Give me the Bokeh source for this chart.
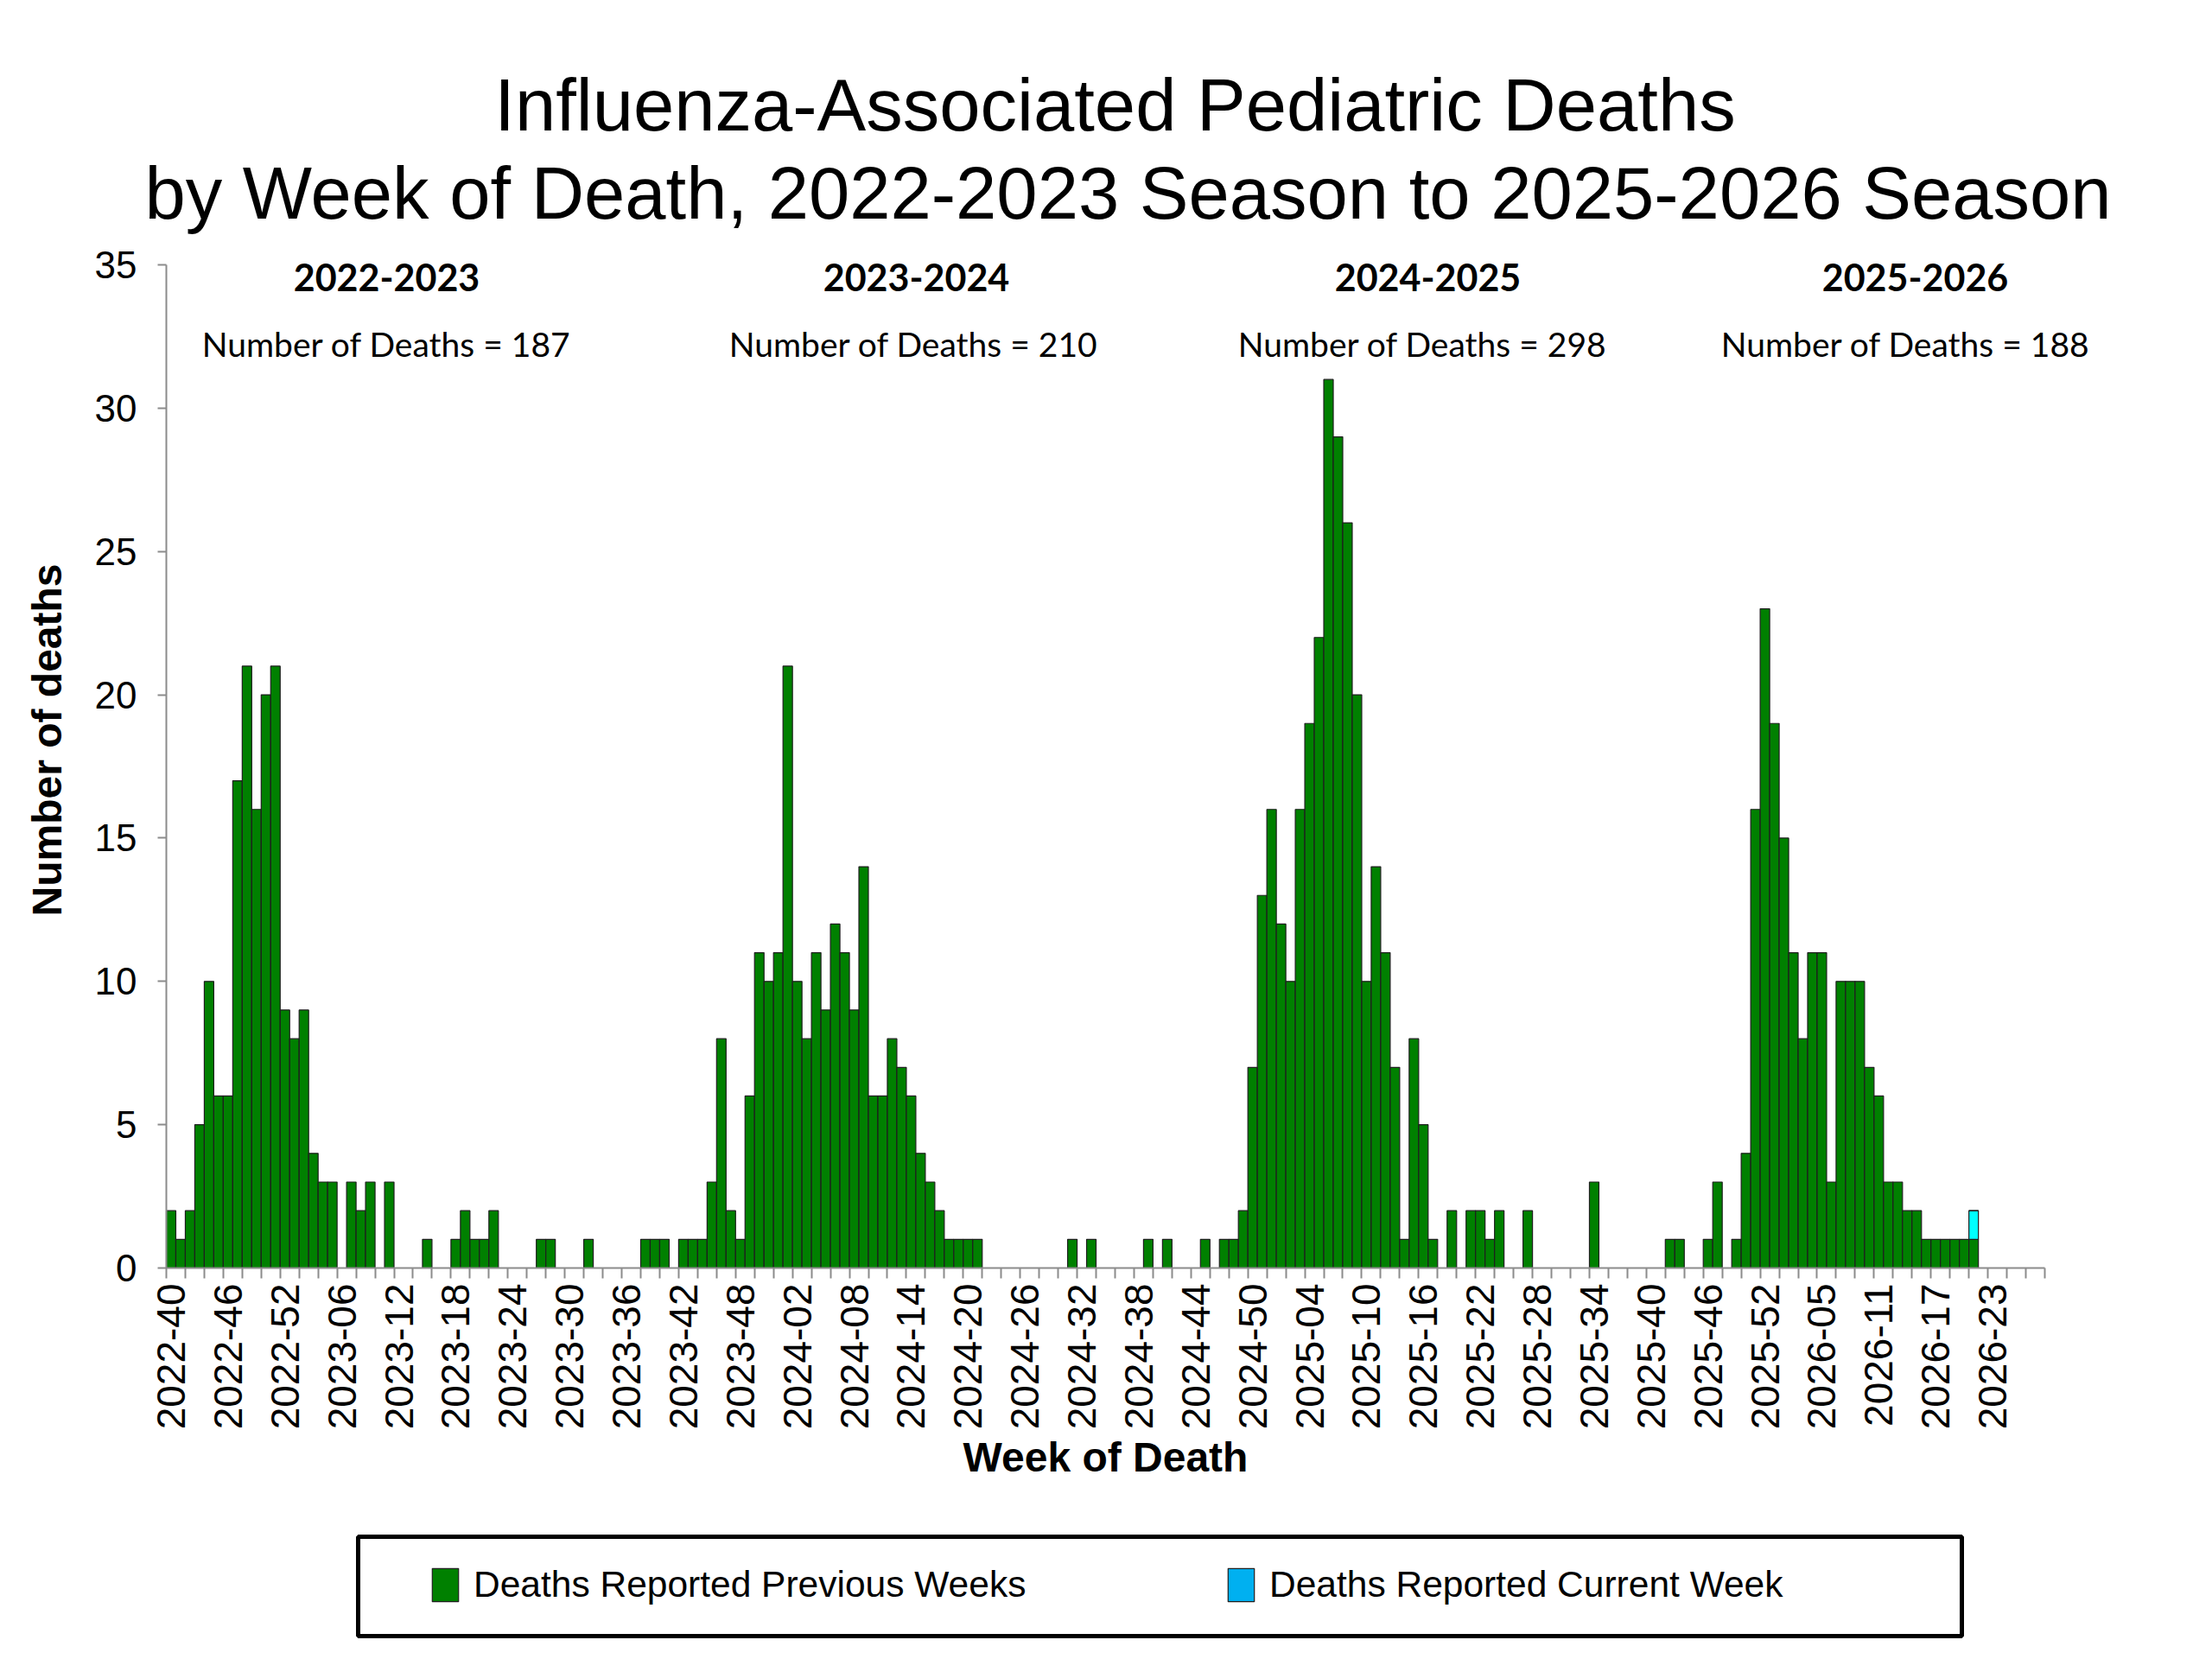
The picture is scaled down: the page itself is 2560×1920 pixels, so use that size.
from bokeh.plotting import figure
from bokeh.models import (ColumnDataSource, Range1d, FixedTicker, Label, Legend,
                          LegendItem, BoxAnnotation)
from bokeh.embed import file_html
from bokeh.resources import INLINE

# ---------------- data ----------------
season_labels = ["2022-2023", "2023-2024", "2024-2025", "2025-2026"]
season_totals = [187, 210, 298, 188]

first_year, first_week = 2022, 40
weeks_per_year = {2022: 52, 2023: 52, 2024: 52, 2025: 53, 2026: 53}
n_weeks = 198  # 2022-40 .. 2026-28

# deaths reported previous weeks, 2022-40 .. 2023-39
season_2022_23 = [2, 1, 2, 5, 10, 6, 6, 17, 21, 16, 20, 21,
                  9, 8, 9, 4, 3, 3, 0, 3, 2, 3, 0, 3,
                  0, 0, 0, 1, 0, 0, 1, 2, 1, 1, 2, 0,
                  0, 0, 0, 1, 1, 0, 0, 0, 1, 0, 0, 0,
                  0, 0, 1, 1]
# 2023-40 .. 2024-39
season_2023_24 = [1, 0, 1, 1, 1, 3, 8, 2, 1, 6, 11, 10,
                  11, 21, 10, 8, 11, 9, 12, 11, 9, 14, 6, 6,
                  8, 7, 6, 4, 3, 2, 1, 1, 1, 1, 0, 0,
                  0, 0, 0, 0, 0, 0, 0, 1, 0, 1, 0, 0,
                  0, 0, 0, 1]
# 2024-40 .. 2025-39
season_2024_25 = [0, 1, 0, 0, 0, 1, 0, 1, 1, 2, 7, 13,
                  16, 12, 10, 16, 19, 22, 31, 29, 26, 20, 10, 14,
                  11, 7, 1, 8, 5, 1, 0, 2, 0, 2, 2, 1,
                  2, 0, 0, 2, 0, 0, 0, 0, 0, 0, 3, 0,
                  0, 0, 0, 0]
# 2025-40 .. 2026-21
season_2025_26_prev = [0, 0, 1, 1, 0, 0, 1, 3, 0, 1, 4, 16,
                       23, 19, 15, 11, 8, 11, 11, 3, 10, 10, 10, 7,
                       6, 3, 3, 2, 2, 1, 1, 1, 1, 1, 1]
season_2025_26_current = [0, 0, 0, 0, 0, 0, 0, 0, 0, 0, 0, 0,
                          0, 0, 0, 0, 0, 0, 0, 0, 0, 0, 0, 0,
                          0, 0, 0, 0, 0, 0, 0, 0, 0, 0, 1]

# ---------------- build categories ----------------
week_labels = []
yr, wk = first_year, first_week
for _ in range(n_weeks):
    week_labels.append(f"{yr}-{wk:02d}")
    wk += 1
    if wk > weeks_per_year[yr]:
        yr, wk = yr + 1, 1

prev = season_2022_23 + season_2023_24 + season_2024_25 + season_2025_26_prev
offset4 = len(season_2022_23) + len(season_2023_24) + len(season_2024_25)

prev_src = ColumnDataSource(data=dict(
    x=[i for i, v in enumerate(prev) if v > 0],
    top=[v for v in prev if v > 0],
    week=[week_labels[i] for i, v in enumerate(prev) if v > 0],
))
cur_idx = [offset4 + i for i, v in enumerate(season_2025_26_current) if v > 0]
cur_src = ColumnDataSource(data=dict(
    x=cur_idx,
    bottom=[prev[i] for i in cur_idx],
    top=[prev[i] + season_2025_26_current[i - offset4] for i in cur_idx],
))

# ---------------- layout (pixels) ----------------
W, H = 2544, 1904
AX_L, AX_R, AX_T, AX_B = 192, 2366, 306, 1467   # where x=-0.5..197.5 / y=0..35 sit
XB0, XB1, YB0, YB1 = -0.5, n_weeks - 0.5, 0, 35
XPP = (XB1 - XB0) / (AX_R - AX_L)   # data units per pixel
YPP = (YB1 - YB0) / (AX_B - AX_T)


def dx(px):
    return XB0 + (px - AX_L) * XPP


def dy(py):
    return YB0 + (AX_B - py) * YPP


p = figure(width=W, height=H,
           x_range=Range1d(dx(0), dx(W)), y_range=Range1d(dy(H), dy(0)),
           output_backend="svg", toolbar_location=None,
           min_border_left=0, min_border_right=0,
           min_border_top=0, min_border_bottom=0)
p.title.visible = False
p.outline_line_color = None
p.xgrid.grid_line_color = None
p.ygrid.grid_line_color = None
p.background_fill_color = "white"
p.border_fill_color = "white"

GREEN = "#008000"
CYAN = "#00FFFF"
LEG_CYAN = "#00B0F0"

r_prev = p.vbar(x="x", top="top", bottom=0, width=1.0, source=prev_src,
                fill_color=GREEN, line_color="#1e1e1e", line_width=1.2)
r_cur = p.vbar(x="x", top="top", bottom="bottom", width=1.0, source=cur_src,
               fill_color=CYAN, line_color="#1e1e1e", line_width=1.2)
# zero-height copy of the current-week bar, used only for its legend swatch colour
r_leg_cur = p.vbar(x="x", top="top", bottom="top", width=1.0, source=cur_src,
                   fill_color=LEG_CYAN, line_color="#1e1e1e", line_width=1.2)

# ---------------- axes ----------------
xax = p.xaxis[0]
xax.fixed_location = 0
xax.bounds = (XB0, XB1)
xax.ticker = FixedTicker(ticks=list(range(0, n_weeks, 6)),
                         minor_ticks=[i - 0.5 for i in range(0, n_weeks + 1, 2)])
xax.major_label_overrides = {i: week_labels[i] for i in range(0, n_weeks, 6)}
xax.major_label_orientation = 1.5707963267948966
xax.major_tick_out = 0
xax.major_tick_in = 0
xax.minor_tick_out = 12
xax.minor_tick_in = 0
xax.minor_tick_line_color = "#8c8c8c"
xax.minor_tick_line_width = 2
xax.axis_line_color = "#8c8c8c"
xax.axis_line_width = 2
xax.major_label_text_font = "Liberation Sans"
xax.major_label_text_font_size = "46px"
xax.major_label_text_color = "black"
xax.major_label_standoff = 6
xax.axis_label = "Week of Death"
xax.axis_label_text_font = "Liberation Sans"
xax.axis_label_text_font_style = "bold"
xax.axis_label_text_font_size = "48px"
xax.axis_label_text_color = "black"
xax.axis_label_standoff = 3

yax = p.yaxis[0]
yax.fixed_location = XB0
yax.bounds = (YB0, YB1)
yax.ticker = FixedTicker(ticks=list(range(0, 36, 5)), minor_ticks=[])
yax.major_tick_out = 10
yax.major_tick_in = 0
yax.major_tick_line_color = "#8c8c8c"
yax.major_tick_line_width = 2
yax.minor_tick_line_color = None
yax.axis_line_color = "#8c8c8c"
yax.axis_line_width = 2
yax.major_label_text_font = "Liberation Sans"
yax.major_label_text_font_size = "44px"
yax.major_label_text_color = "black"
yax.major_label_standoff = 24

# y-axis title
p.add_layout(Label(x=dx(54), y=dy(856), text="Number of deaths", angle=1.5707963267948966,
                   text_align="center", text_baseline="middle",
                   text_font="Liberation Sans", text_font_style="bold",
                   text_font_size="48px", text_color="black"))

# ---------------- title ----------------
title_lines = ["Influenza-Associated Pediatric Deaths",
               "by Week of Death, 2022-2023 Season to 2025-2026 Season"]
for txt, cx, cy in zip(title_lines, [1290, 1305], [121, 223]):
    p.add_layout(Label(x=dx(cx), y=dy(cy), text=txt, text_align="center",
                       text_baseline="middle", text_font="Liberation Sans",
                       text_font_size="85px", text_color="black"))

# ---------------- season annotations ----------------
season_head_x = [447, 1060, 1652, 2216]
season_count_x = [447, 1057, 1646, 2205]
for lab, tot, hx, cx in zip(season_labels, season_totals, season_head_x, season_count_x):
    p.add_layout(Label(x=dx(hx), y=dy(320), text=lab, text_align="center",
                       text_baseline="middle", text_font="Lato",
                       text_font_style="bold", text_font_size="43px",
                       text_color="black"))
    p.add_layout(Label(x=dx(cx), y=dy(397), text=f"Number of Deaths = {tot}",
                       text_align="center", text_baseline="middle",
                       text_font="Lato", text_font_size="39px",
                       text_color="black"))

# ---------------- legend ----------------
p.add_layout(BoxAnnotation(left=dx(414), right=dx(2270), top=dy(1778), bottom=dy(1893),
                           fill_color="white", fill_alpha=1.0,
                           line_color="black", line_alpha=1.0, line_width=5,
                           level="overlay"))

legend = Legend(items=[
    LegendItem(label="Deaths Reported Previous Weeks", renderers=[r_prev]),
    LegendItem(label="Deaths Reported Current Week", renderers=[r_leg_cur]),
], location=(496, H - 1860), orientation="horizontal")
legend.label_text_font = "Liberation Sans"
legend.label_text_font_size = "42.5px"
legend.label_text_color = "black"
legend.glyph_width = 38
legend.glyph_height = 48
legend.label_height = 52
legend.label_standoff = 14
legend.label_width = 700
legend.spacing = 169
legend.padding = 0
legend.margin = 0
legend.border_line_color = None
legend.background_fill_alpha = 0.0
p.add_layout(legend)

open("out.html", "w").write(file_html(p, INLINE))
